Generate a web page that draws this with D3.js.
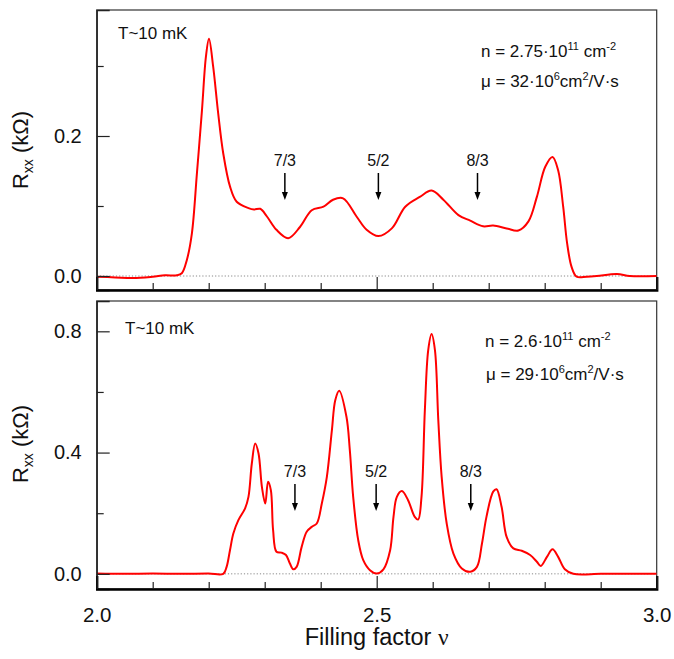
<!DOCTYPE html>
<html>
<head>
<meta charset="utf-8">
<script src="https://cdn.jsdelivr.net/npm/d3@7"></script>
<style>
  html, body { margin: 0; padding: 0; background: #fff; }
  svg { display: block; font-family: Arial, "Liberation Sans", Helvetica, sans-serif; }
</style>
</head>
<body>
<svg id="chart" width="674" height="659"></svg>
<script>
// Filling factor (x) and longitudinal resistance in kOhm (y), upper sample
const nuTop = [2.000,2.033,2.065,2.100,2.122,2.143,2.152,2.161,2.170,2.179,2.188,2.195,2.2005,2.208,2.217,2.226,2.238,2.250,2.271,2.281,2.292,2.304,2.321,2.342,2.363,2.384,2.405,2.422,2.440,2.464,2.482,2.503,2.527,2.551,2.577,2.598,2.619,2.646,2.667,2.690,2.708,2.732,2.753,2.771,2.786,2.801,2.814,2.824,2.833,2.840,2.848,2.857,2.875,2.893,2.929,2.952,3.000];
const rTop = [-0.001,-0.002,-0.003,-0.001,0.001,0.001,0.004,0.023,0.061,0.147,0.237,0.313,0.339,0.299,0.232,0.175,0.128,0.106,0.097,0.095,0.096,0.085,0.066,0.054,0.070,0.094,0.099,0.109,0.111,0.085,0.066,0.057,0.068,0.099,0.113,0.122,0.109,0.087,0.079,0.071,0.072,0.068,0.065,0.078,0.113,0.156,0.170,0.151,0.099,0.047,0.013,-0.001,-0.001,0,0.003,0,0];

// Lower sample
const nuBot = [2.000,2.050,2.100,2.150,2.200,2.226,2.232,2.238,2.244,2.253,2.265,2.271,2.277,2.283,2.289,2.295,2.301,2.306,2.311,2.315,2.321,2.330,2.338,2.345,2.351,2.357,2.366,2.375,2.384,2.393,2.402,2.411,2.420,2.426,2.433,2.446,2.452,2.458,2.467,2.476,2.488,2.500,2.512,2.524,2.530,2.536,2.545,2.556,2.568,2.574,2.580,2.586,2.592,2.598,2.604,2.610,2.616,2.625,2.637,2.652,2.667,2.679,2.688,2.696,2.708,2.714,2.723,2.732,2.744,2.759,2.774,2.786,2.793,2.804,2.814,2.824,2.836,2.851,2.900,2.950,3.000];
const rBot = [0.001,0.000,0.001,0.000,0.001,0.000,0.023,0.078,0.133,0.177,0.216,0.254,0.364,0.430,0.397,0.287,0.232,0.304,0.276,0.144,0.073,0.070,0.062,0.034,0.015,0.023,0.089,0.139,0.155,0.166,0.232,0.320,0.474,0.573,0.604,0.518,0.408,0.254,0.111,0.045,0.012,0.001,0.015,0.078,0.188,0.254,0.273,0.243,0.188,0.179,0.254,0.540,0.738,0.791,0.738,0.507,0.320,0.166,0.067,0.018,0.007,0.023,0.100,0.188,0.271,0.279,0.221,0.122,0.084,0.076,0.062,0.040,0.026,0.056,0.081,0.056,0.015,0.000,0.000,0.000,0.000];

// Fractional filling factors marked with arrows
const fracLabels = ["7/3", "5/2", "8/3"];
const fracTop = [2.336, 2.503, 2.680];
const fracBot = [2.354, 2.499, 2.668];

// Axis ticks
const xMajor = [2.0, 2.5, 3.0];
const xMinor = [2.1, 2.2, 2.3, 2.4, 2.6, 2.7, 2.8, 2.9];
const yMajorTop = [0.0, 0.2];
const yMinorTop = [0.1, 0.3];
const yMajorBot = [0.0, 0.4, 0.8];
const yMinorBot = [0.2, 0.6];

// Sample descriptions
const tempLabel = "T~10 mK";
const densTop = ["2.75", "11"];
const densBot = ["2.6", "11"];
const mobTop = ["32", "6"];
const mobBot = ["29", "6"];

const svg = d3.select("#chart");
const X0 = 96.7, X1 = 656.7;
const x = d3.scaleLinear().domain([2, 3]).range([X0, X1]);

function panel(cfg) {
  const y = d3.scaleLinear().domain(cfg.yDomain).range([cfg.bottom, cfg.top]);
  const g = svg.append("g");
  const clipId = "clip" + cfg.id;
  svg.append("clipPath").attr("id", clipId)
    .append("rect").attr("x", X0).attr("y", cfg.top).attr("width", X1 - X0).attr("height", cfg.bottom - cfg.top);

  // frame
  g.append("rect").attr("x", X0).attr("y", cfg.top).attr("width", X1 - X0).attr("height", cfg.bottom - cfg.top)
    .attr("fill", "none").attr("stroke", "#333").attr("stroke-width", 1.2);

  // zero reference
  g.append("line").attr("x1", X0).attr("x2", X1).attr("y1", y(0)).attr("y2", y(0))
    .attr("stroke", "#888").attr("stroke-width", 1).attr("stroke-dasharray", "1.2,2");

  // data curve
  const pts = cfg.nu.map((v, i) => [v, cfg.r[i]]);
  g.append("path").datum(pts)
    .attr("clip-path", `url(#${clipId})`)
    .attr("fill", "none").attr("stroke", "#ff0000").attr("stroke-width", 2)
    .attr("stroke-linejoin", "round")
    .attr("d", d3.line().x(d => x(d[0])).y(d => y(d[1])).curve(d3.curveCatmullRom.alpha(0.5)));

  // y axis
  const yMaj = g.append("g").attr("transform", `translate(${X0},0)`)
    .call(d3.axisLeft(y).tickValues(cfg.yMajor).tickSize(-13).tickPadding(15).tickFormat(d3.format(".1f")));
  yMaj.select(".domain").attr("stroke", "#222").attr("stroke-width", 1.4);
  yMaj.selectAll(".tick line").attr("stroke", "#222").attr("stroke-width", 1.2);
  yMaj.selectAll(".tick text").attr("font-size", 20).attr("fill", "#111").attr("font-family", "Arial, 'Liberation Sans', sans-serif");
  const yMin = g.append("g").attr("transform", `translate(${X0},0)`)
    .call(d3.axisLeft(y).tickValues(cfg.yMinor).tickSize(-7).tickFormat(""));
  yMin.select(".domain").remove();
  yMin.selectAll(".tick line").attr("stroke", "#222").attr("stroke-width", 1.2);

  // x axis
  const xMaj = g.append("g").attr("transform", `translate(0,${cfg.bottom})`)
    .call(d3.axisBottom(x).tickValues(xMajor).tickSize(-13).tickPadding(18)
      .tickFormat(cfg.xLabels ? d3.format(".1f") : ""));
  xMaj.select(".domain").attr("stroke", "#000").attr("stroke-width", 2.4);
  xMaj.selectAll(".tick line").attr("stroke", "#222").attr("stroke-width", 1.2);
  xMaj.selectAll(".tick text").attr("font-size", 20.5).attr("fill", "#111").attr("font-family", "Arial, 'Liberation Sans', sans-serif");
  const xMin = g.append("g").attr("transform", `translate(0,${cfg.bottom})`)
    .call(d3.axisBottom(x).tickValues(xMinor).tickSize(-7).tickFormat(""));
  xMin.select(".domain").remove();
  xMin.selectAll(".tick line").attr("stroke", "#222").attr("stroke-width", 1.2);

  // y axis title
  const yt = g.append("text")
    .attr("transform", `translate(28,${cfg.titleY}) rotate(-90)`)
    .attr("text-anchor", "middle").attr("font-size", 22).attr("fill", "#111");
  yt.append("tspan").text("R");
  yt.append("tspan").attr("font-size", 14).attr("dy", 5).text("xx");
  yt.append("tspan").attr("dy", -5).text(" (kΩ)");

  // temperature
  g.append("text").attr("x", cfg.tX).attr("y", cfg.tY).attr("font-size", 17).attr("fill", "#111").text(tempLabel);

  // density and mobility
  const n = g.append("text").attr("x", cfg.nX).attr("y", cfg.nY).attr("font-size", 17).attr("fill", "#111");
  n.append("tspan").text(`n = ${cfg.dens[0]}·10`);
  n.append("tspan").attr("font-size", 11).attr("dy", -7.5).text(cfg.dens[1]);
  n.append("tspan").attr("dy", 7.5).text(" cm");
  n.append("tspan").attr("font-size", 11).attr("dy", -7.5).text("-2");

  const m = g.append("text").attr("x", cfg.mX).attr("y", cfg.mY).attr("font-size", 17).attr("fill", "#111");
  m.append("tspan").text(`μ = ${cfg.mob[0]}·10`);
  m.append("tspan").attr("font-size", 11).attr("dy", -7.5).text(cfg.mob[1]);
  m.append("tspan").attr("dy", 7.5).text("cm");
  m.append("tspan").attr("font-size", 11).attr("dy", -7.5).text("2");
  m.append("tspan").attr("dy", 7.5).text("/V·s");

  // fraction arrows
  cfg.frac.forEach((v, i) => {
    const ax = x(v);
    g.append("text").attr("x", ax).attr("y", cfg.fracY).attr("text-anchor", "middle")
      .attr("font-size", 16).attr("fill", "#111").text(fracLabels[i]);
    g.append("line").attr("x1", ax).attr("x2", ax).attr("y1", cfg.fracY + 7).attr("y2", cfg.fracY + 29)
      .attr("stroke", "#000").attr("stroke-width", 1.5);
    g.append("path")
      .attr("d", `M${ax - 3},${cfg.fracY + 26} L${ax + 3},${cfg.fracY + 26} L${ax},${cfg.fracY + 34} Z`)
      .attr("fill", "#000");
  });
  return y;
}

panel({
  id: "top", top: 10, bottom: 290, yDomain: [-0.02, 0.38],
  nu: nuTop, r: rTop, yMajor: yMajorTop, yMinor: yMinorTop, xLabels: false,
  titleY: 150, tX: 118, tY: 39,
  dens: densTop, mob: mobTop, nX: 481, nY: 57, mX: 481, mY: 87,
  frac: fracTop, fracY: 166
});

panel({
  id: "bot", top: 301, bottom: 589, yDomain: [-0.05, 0.9],
  nu: nuBot, r: rBot, yMajor: yMajorBot, yMinor: yMinorBot, xLabels: true,
  titleY: 444, tX: 125, tY: 334,
  dens: densBot, mob: mobBot, nX: 485, nY: 347, mX: 486, mY: 380,
  frac: fracBot, fracY: 477
});

// x axis title
const xt = svg.append("text").attr("x", (X0 + X1) / 2).attr("y", 645)
  .attr("text-anchor", "middle").attr("font-size", 23.5).attr("fill", "#111");
xt.append("tspan").text("Filling factor ");
xt.append("tspan").attr("font-family", "'Liberation Serif', 'DejaVu Serif', serif").text("ν");
</script>
</body>
</html>
